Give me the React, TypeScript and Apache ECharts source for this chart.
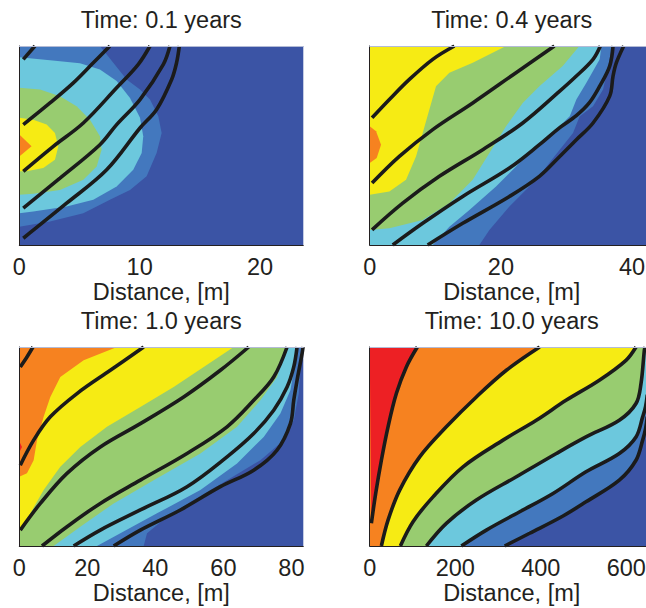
import React, { useEffect, useRef } from 'react';
import * as echarts from 'echarts';

// ---------- data ----------
const TITLES = ['Time: 0.1 years', 'Time: 0.4 years', 'Time: 1.0 years', 'Time: 10.0 years'];
const X_MAX = [23.6, 43.3, 83.5, 664];
const X_STEP = [10, 20, 20, 200];
const X_NAME = 'Distance, [m]';
// band colours, from the outermost (mid blue) to the innermost (red)
const BAND_COLORS = ['#4378be', '#6cc8dd', '#98cc70', '#f6eb14', '#f68220', '#ed2024'];
const BG_COLOR = '#3b54a5';

// Panel 1 (0.1 years): band outlines [distance, relative height]
const P1_MID = [[0, 0.092], [2.55, 0.118], [5.32, 0.16], [7.53, 0.227], [9.2, 0.277], [10.58, 0.345], [11.41, 0.462], [11.83, 0.563], [11.55, 0.647], [10.86, 0.731], [10.03, 0.782], [8.92, 0.832], [7.81, 0.916], [6.7, 1.0]];
const P1_CYAN = [[0, 0.16], [1.16, 0.168], [3.93, 0.193], [6.15, 0.227], [8.09, 0.294], [9.47, 0.378], [10.17, 0.462], [10.3, 0.546], [10.03, 0.639], [9.2, 0.739], [8.09, 0.824], [6.7, 0.882], [5.04, 0.913], [2.55, 0.929], [0, 0.943]];
const P1_GREEN = [[0, 0.252], [1.16, 0.257], [3.38, 0.277], [5.32, 0.328], [6.43, 0.395], [6.84, 0.479], [6.7, 0.546], [5.87, 0.63], [4.76, 0.697], [3.38, 0.748], [1.72, 0.782], [0, 0.79]];
const P1_YELLOW = [[0, 0.37], [0.61, 0.37], [1.99, 0.387], [2.96, 0.429], [3.24, 0.496], [2.96, 0.563], [2.27, 0.605], [1.16, 0.63], [0, 0.639]];
const P1_ORANGE = [[0, 0.445], [1.02, 0.496], [0, 0.555]];
const P1_LINES = [
  [[0.33, 0.933], [1.3, 1.0]],
  [[0.33, 0.605], [2.55, 0.714], [4.49, 0.815], [6.15, 0.916], [7.53, 1.0]],
  [[0.33, 0.37], [2.83, 0.496], [5.32, 0.613], [8.09, 0.79], [9.89, 0.908], [10.86, 1.0]],
  [[0.33, 0.185], [3.38, 0.336], [6.7, 0.504], [8.09, 0.605], [10.03, 0.731], [11.97, 0.908], [12.52, 1.0]],
  [[0.33, 0.034], [3.93, 0.21], [7.26, 0.378], [10.03, 0.588], [11.41, 0.681], [12.66, 0.832], [13.07, 0.916], [13.3, 1.0]],
];

// Panel 2 (0.4 years)
const P2_MID = [[16.72, 0], [18.25, 0.076], [21.3, 0.193], [25.36, 0.328], [28.97, 0.479], [31.0, 0.563], [32.02, 0.647], [34.05, 0.697], [35.58, 0.782], [36.59, 0.933], [36.85, 1.0]];
const P2_CYAN = [[9.61, 0], [12.15, 0.092], [15.2, 0.176], [19.26, 0.294], [22.31, 0.395], [25.36, 0.496], [28.97, 0.597], [30.5, 0.647], [31.51, 0.731], [33.04, 0.815], [35.07, 0.933], [35.32, 1.0]];
const P2_GREEN = [[0, 0.076], [3.0, 0.084], [8.08, 0.126], [12.15, 0.21], [15.71, 0.328], [18.25, 0.462], [20.79, 0.597], [23.33, 0.714], [25.87, 0.798], [29.43, 0.899], [31.97, 1.0]];
const P2_YELLOW = [[0, 0.252], [3.0, 0.269], [5.54, 0.328], [7.06, 0.445], [8.08, 0.563], [9.1, 0.681], [10.11, 0.798], [12.15, 0.866], [15.71, 0.916], [20.79, 1.0]];
const P2_ORANGE = [[0, 0.412], [1.07, 0.437], [1.73, 0.504], [0.97, 0.571], [0, 0.597]];
const P2_LINES = [
  [[0.36, 0.639], [3.0, 0.731], [6.05, 0.832], [9.61, 0.933], [12.91, 1.0]],
  [[0.36, 0.311], [4.52, 0.445], [9.61, 0.58], [15.71, 0.714], [22.31, 0.866], [28.16, 1.0]],
  [[0.36, 0.076], [5.03, 0.21], [10.62, 0.345], [17.23, 0.479], [23.33, 0.613], [28.97, 0.773], [31.51, 0.849], [34.05, 0.933], [35.17, 1.0]],
  [[3.51, 0], [8.08, 0.109], [14.18, 0.244], [21.3, 0.387], [25.87, 0.504], [28.97, 0.59], [31.5, 0.65], [33.5, 0.715], [35.07, 0.798], [36.59, 0.899], [37.1, 1.0]],
  [[8.84, 0], [14.18, 0.109], [21.3, 0.244], [25.87, 0.345], [28.97, 0.445], [31.51, 0.529], [34.05, 0.613], [36.59, 0.748], [37.1, 0.849], [37.61, 0.916], [38.73, 1.0]],
];

// Panel 3 (1.0 years)
const P3_MID = [[36.57, 0], [37.55, 0.064], [43.43, 0.147], [51.27, 0.231], [61.08, 0.331], [70.88, 0.431], [77.75, 0.532], [80.69, 0.632], [82.16, 0.766], [82.65, 0.9], [83.14, 1.0]];
const P3_CYAN = [[22.84, 0], [29.71, 0.064], [40.49, 0.164], [53.24, 0.281], [64.02, 0.415], [71.86, 0.548], [76.76, 0.666], [79.71, 0.783], [80.88, 0.9], [81.37, 1.0]];
const P3_GREEN = [[10.1, 0], [17.94, 0.097], [27.75, 0.214], [39.51, 0.331], [53.24, 0.465], [64.02, 0.599], [70.88, 0.732], [75.78, 0.849], [78.43, 1.0]];
const P3_YELLOW = [[0, 0.072], [3.24, 0.164], [7.16, 0.281], [12.06, 0.398], [17.94, 0.498], [25.78, 0.599], [35.59, 0.699], [45.39, 0.799], [54.22, 0.9], [63.04, 1.0]];
const P3_ORANGE = [[0, 0.348], [2.25, 0.365], [4.22, 0.431], [5.2, 0.532], [7.16, 0.649], [9.12, 0.749], [12.06, 0.849], [18.92, 0.933], [28.73, 1.0]];
const P3_RED = [[0, 0.47], [0.8, 0.498], [0, 0.525]];
const P3_LINES = [
  [[0.29, 0.9], [2.25, 0.95], [4.02, 1.0]],
  [[0.29, 0.406], [4.22, 0.532], [9.12, 0.649], [16.96, 0.766], [26.76, 0.883], [36.57, 1.0]],
  [[0.29, 0.08], [6.18, 0.214], [14.02, 0.365], [23.82, 0.498], [35.59, 0.615], [48.33, 0.749], [59.12, 0.883], [67.45, 1.0]],
  [[6.67, 0], [14.02, 0.097], [23.82, 0.214], [35.59, 0.331], [49.31, 0.465], [61.08, 0.599], [68.92, 0.732], [74.8, 0.849], [78.73, 1.0]],
  [[15.98, 0], [23.82, 0.08], [35.59, 0.181], [49.31, 0.298], [61.08, 0.448], [68.92, 0.565], [74.8, 0.682], [78.73, 0.799], [80.69, 0.9], [81.67, 1.0]],
  [[27.75, 0], [35.59, 0.08], [47.35, 0.181], [59.12, 0.298], [68.92, 0.381], [75.78, 0.482], [79.71, 0.615], [80.69, 0.732], [81.67, 0.833], [83.14, 0.967], [83.43, 1.0]],
];

// Panel 4 (10.0 years): the band edges are the black lines themselves
const P4_LINES = [
  [[3.9, 0.114], [14.0, 0.264], [27.3, 0.431], [42.9, 0.599], [62.3, 0.766], [85.7, 0.9], [111.4, 1.0]],
  [[27.3, 0], [42.9, 0.13], [70.1, 0.281], [116.9, 0.448], [179.2, 0.599], [249.4, 0.749], [319.5, 0.883], [397.4, 1.0]],
  [[71.7, 0], [101.3, 0.122], [148.1, 0.247], [218.2, 0.398], [311.7, 0.532], [389.6, 0.632], [459.0, 0.732], [536.9, 0.833], [599.2, 0.933], [622.6, 1.0]],
  [[132.5, 0], [179.2, 0.114], [249.4, 0.231], [342.9, 0.348], [436.4, 0.465], [505.7, 0.548], [583.6, 0.632], [622.6, 0.716], [634.3, 0.816], [642.1, 0.983], [644, 1.0]],
  [[214.3, 0], [272.7, 0.08], [350.7, 0.172], [428.6, 0.264], [505.7, 0.373], [583.6, 0.465], [622.6, 0.548], [638.2, 0.649], [645, 0.7], [649, 0.76]],
  [[315.6, 0], [374.0, 0.064], [452.0, 0.151], [505.7, 0.222], [583.6, 0.331], [622.6, 0.431], [638.2, 0.532], [645, 0.59], [649, 0.65]],
];

const PANEL_FILLS = [
  [P1_MID, P1_CYAN, P1_GREEN, P1_YELLOW, P1_ORANGE],
  [P2_MID, P2_CYAN, P2_GREEN, P2_YELLOW, P2_ORANGE],
  [P3_MID, P3_CYAN, P3_GREEN, P3_YELLOW, P3_ORANGE, P3_RED],
  P4_LINES.slice().reverse(),
];
const PANEL_LINES = [P1_LINES, P2_LINES, P3_LINES, P4_LINES];

// ---------- layout ----------
const GRID_LEFT = [19.3, 369.7, 19.3, 369.7];
const GRID_TOP = [46, 46, 347, 347];
const GRID_W = 284;
const GRID_H = 199;
const TITLE_TOP = [7.6, 7.6, 308.6, 308.6];
const FONT = '"Liberation Sans", Arial, Helvetica, sans-serif';
const TEXT_COLOR = '#231f20';
const FONT_SIZE = 23.5;

// region left of a band edge: close the curve along the plot border
function closeBand(curve: number[][], xmax: number): number[][] {
  let c = curve.slice();
  if (c[0][1] > c[c.length - 1][1]) c = c.reverse();
  const f = c[0];
  const l = c[c.length - 1];
  const poly: number[][] = [];
  if (f[1] <= 0 && f[0] > 0) poly.push([0, 0]);
  poly.push(...c);
  if (l[1] >= 1) poly.push([0, 1]);
  else if (l[0] > 0.5 * xmax) {
    poly.push([l[0], 1]);
    poly.push([0, 1]);
  }
  return poly;
}

function buildOption() {
  const grid: any[] = [];
  const xAxis: any[] = [];
  const yAxis: any[] = [];
  const series: any[] = [];
  const title: any[] = [];
  for (let i = 0; i < 4; i++) {
    const step = X_STEP[i];
    grid.push({
      left: GRID_LEFT[i], top: GRID_TOP[i], width: GRID_W, height: GRID_H,
      containLabel: false, outerBoundsMode: 'none',
      show: true, backgroundColor: BG_COLOR, borderWidth: 0,
    });
    xAxis.push({
      type: 'value', gridIndex: i, position: 'bottom', min: 0, max: X_MAX[i], interval: step,
      axisLine: { show: true, onZero: false, lineStyle: { color: TEXT_COLOR, width: 1 } },
      axisTick: { show: false }, splitLine: { show: false },
      axisLabel: {
        margin: 10, fontSize: FONT_SIZE, color: TEXT_COLOR, fontFamily: FONT, hideOverlap: false,
        formatter: (v: number) => (Math.abs(v / step - Math.round(v / step)) < 1e-6 ? String(v) : ''),
      },
      name: X_NAME, nameLocation: 'middle', nameGap: 34,
      nameTextStyle: { fontSize: FONT_SIZE, color: TEXT_COLOR, fontFamily: FONT },
      z: 10,
    });
    xAxis.push({
      type: 'value', gridIndex: i, position: 'top', min: 0, max: X_MAX[i],
      axisLine: { show: true, onZero: false, lineStyle: { color: '#b3bbd6', width: 1 } },
      axisTick: { show: false }, axisLabel: { show: false }, splitLine: { show: false },
      z: 10,
    });
    yAxis.push({
      type: 'value', gridIndex: i, min: 0, max: 1,
      axisLine: { show: true, onZero: false, lineStyle: { color: TEXT_COLOR, width: 1 } },
      axisTick: { show: false }, axisLabel: { show: false }, splitLine: { show: false },
      z: 10,
    });
    const bands = PANEL_FILLS[i].map((c) => closeBand(c, X_MAX[i]));
    series.push({
      type: 'custom',
      xAxisIndex: 2 * i, yAxisIndex: i,
      silent: true, z: 1,
      data: bands.map(() => [0, 0]),
      renderItem: (params: any, api: any) => {
        const poly = bands[params.dataIndex];
        return {
          type: 'polygon',
          shape: { points: poly.map((p) => api.coord(p)) },
          style: { fill: BAND_COLORS[params.dataIndex] },
        };
      },
    });
    PANEL_LINES[i].forEach((ln) => {
      series.push({
        type: 'line', xAxisIndex: 2 * i, yAxisIndex: i,
        data: ln, symbol: 'none', showSymbol: false, smooth: 0.35, silent: true, z: 3,
        lineStyle: { color: '#1b1b1b', width: 3.6, cap: 'butt' },
      });
    });
    title.push({
      text: TITLES[i], left: GRID_LEFT[i] + GRID_W / 2, top: TITLE_TOP[i], textAlign: 'center', padding: 0,
      textStyle: { fontSize: FONT_SIZE, fontWeight: 'normal', color: TEXT_COLOR, fontFamily: FONT },
    });
  }
  return { animation: false, backgroundColor: '#ffffff', title, grid, xAxis, yAxis, series };
}

export default function App() {
  const ref = useRef<HTMLDivElement>(null);
  useEffect(() => {
    if (!ref.current) return;
    const chart = echarts.init(ref.current, undefined, { renderer: 'svg' });
    chart.setOption(buildOption() as any);
    return () => chart.dispose();
  }, []);
  return <div ref={ref} style={{ position: 'fixed', left: 0, top: 0, width: 646, height: 608 }} />;
}
